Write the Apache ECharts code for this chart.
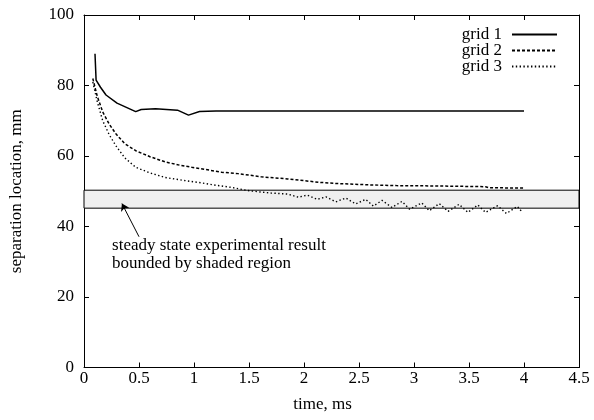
<!DOCTYPE html>
<html>
<head>
<meta charset="utf-8">
<script src="https://cdn.jsdelivr.net/npm/echarts@6/dist/echarts.min.js"></script>
<style>html,body{margin:0;padding:0;background:#fff}#c{width:594px;height:420px}</style>
</head>
<body>
<div id="c"></div>
<script>
const seriesNames = ['grid 1', 'grid 2', 'grid 3'];
const t1 = [0.10, 0.11, 0.15, 0.20, 0.30, 0.40, 0.47, 0.52, 0.65, 0.85, 0.95, 1.05, 1.20, 1.6, 2.0, 2.5, 3.0, 3.5, 4.0];
const v1 = [89.0, 81.5, 79.5, 77.3, 75.0, 73.6, 72.6, 73.2, 73.4, 73.0, 71.6, 72.6, 72.8, 72.8, 72.8, 72.8, 72.8, 72.8, 72.8];
const t2 = [0.08, 0.12, 0.17, 0.23, 0.29, 0.37, 0.47, 0.60, 0.74, 0.87, 0.98, 1.10, 1.25, 1.40, 1.61, 1.85, 2.00, 2.15, 2.30, 2.45, 2.60, 2.84, 3.20, 3.65, 3.68, 4.00];
const v2 = [82.0, 77.0, 72.5, 69.0, 66.3, 63.5, 61.5, 59.8, 58.3, 57.4, 56.8, 56.2, 55.4, 55.0, 54.1, 53.5, 53.0, 52.5, 52.2, 52.0, 51.8, 51.6, 51.5, 51.3, 51.0, 50.9];
const t3 = [0.08, 0.12, 0.17, 0.23, 0.29, 0.37, 0.47, 0.60, 0.74, 0.90, 1.04, 1.20, 1.34, 1.49, 1.60, 1.70, 1.85, 1.95, 2.03, 2.12, 2.20, 2.29, 2.38, 2.47, 2.56, 2.63, 2.71, 2.80, 2.89, 2.96, 3.07, 3.14, 3.23, 3.31, 3.41, 3.49, 3.58, 3.65, 3.76, 3.84, 3.94, 3.98];
const v3 = [81.0, 75.5, 70.0, 66.0, 62.9, 59.5, 56.8, 55.2, 53.9, 53.1, 52.5, 51.7, 51.1, 50.2, 49.8, 49.5, 49.2, 48.3, 48.9, 47.7, 48.4, 47.0, 48.1, 46.4, 47.7, 45.8, 47.4, 45.4, 47.1, 44.9, 46.7, 44.5, 46.5, 44.3, 46.3, 44.0, 46.1, 44.0, 45.9, 43.7, 45.7, 44.2];
const xTicks = [0, 0.5, 1, 1.5, 2, 2.5, 3, 3.5, 4, 4.5];
const yTicks = [0, 20, 40, 60, 80, 100];
const band = [45.2, 50.3];
const arrowFrom = [0.50, 37.1];
const arrowTo = [0.345, 46.5];
const noteAt = [0.255, 32.0];
const noteText = 'steady state experimental result\nbounded by shaded region';

const FONT = "'Liberation Serif', 'DejaVu Serif', serif";
const FS = 17;
const pairs = (t, v) => t.map((x, i) => [x, v[i]]);

const axisCommon = {
  type: 'value',
  axisLine: { show: true, onZero: false, lineStyle: { color: '#000', width: 1 } },
  axisTick: { show: true, inside: true, length: 5, lineStyle: { color: '#000' } },
  splitLine: { show: false }
};

const chart = echarts.init(document.getElementById('c'), null, { renderer: 'canvas' });
chart.setOption({
  backgroundColor: '#fff',
  animation: false,
  textStyle: { fontFamily: FONT },
  grid: { left: 81, right: 15, top: 15, bottom: 52.5 },
  legend: {
    orient: 'vertical', align: 'right', right: 31, top: 21,
    itemWidth: 45, itemHeight: 14, itemGap: -1,
    itemStyle: { opacity: 0 },
    textStyle: { fontFamily: FONT, fontSize: FS, lineHeight: 14, color: '#000', padding: [0, 5, 0, 0] },
    data: seriesNames
  },
  xAxis: [
    Object.assign({}, axisCommon, {
      position: 'bottom', min: xTicks[0], max: xTicks[xTicks.length - 1], interval: 0.5,
      axisLabel: { color: '#000', fontSize: FS, fontFamily: FONT, margin: 3 },
      name: 'time, ms', nameLocation: 'middle', nameGap: 29,
      nameTextStyle: { color: '#000', fontSize: FS, fontFamily: FONT, padding: [0, 18, 0, 0] }
    }),
    Object.assign({}, axisCommon, {
      position: 'top', min: xTicks[0], max: xTicks[xTicks.length - 1], interval: 0.5,
      axisLabel: { show: false }
    })
  ],
  yAxis: [
    Object.assign({}, axisCommon, {
      position: 'left', min: yTicks[0], max: yTicks[yTicks.length - 1], interval: 20,
      axisLabel: { color: '#000', fontSize: FS, fontFamily: FONT, margin: 10 },
      name: 'separation location, mm', nameLocation: 'middle', nameGap: 59,
      nameTextStyle: { color: '#000', fontSize: FS, fontFamily: FONT }
    }),
    Object.assign({}, axisCommon, {
      position: 'right', min: yTicks[0], max: yTicks[yTicks.length - 1], interval: 20,
      axisLabel: { show: false }
    })
  ],
  series: [
    {
      name: 'band', type: 'line', data: [], z: 1, silent: true,
      markArea: {
        silent: true,
        itemStyle: { color: '#f0f0f0', borderColor: '#000', borderWidth: 1 },
        data: [[{ yAxis: band[0] }, { yAxis: band[1] }]]
      },
      markLine: {
        silent: true, symbol: ['none', 'arrow'], symbolSize: 7,
        lineStyle: { color: '#000', width: 1, type: 'solid' },
        label: { show: false },
        data: [[{ coord: arrowFrom }, { coord: arrowTo }]]
      },
      markPoint: {
        silent: true, symbol: 'circle', symbolSize: 0,
        label: { show: true, position: 'right', distance: 0, color: '#000', fontSize: FS, fontFamily: FONT, lineHeight: 18.5, align: 'left' },
        data: [{ coord: noteAt, value: noteText, label: { formatter: noteText } }]
      }
    },
    {
      name: seriesNames[0], type: 'line', data: pairs(t1, v1), z: 3,
      showSymbol: false, symbol: 'none',
      lineStyle: { color: '#000', width: 1.5, type: 'solid' }, itemStyle: { color: '#000' }
    },
    {
      name: seriesNames[1], type: 'line', data: pairs(t2, v2), z: 3,
      showSymbol: false, symbol: 'none',
      lineStyle: { color: '#000', width: 1.5, type: [3, 2] }, itemStyle: { color: '#000' }
    },
    {
      name: seriesNames[2], type: 'line', data: pairs(t3, v3), z: 3,
      showSymbol: false, symbol: 'none',
      lineStyle: { color: '#000', width: 1.4, type: [1.4, 2.4] }, itemStyle: { color: '#000' }
    }
  ]
});
</script>
</body>
</html>
